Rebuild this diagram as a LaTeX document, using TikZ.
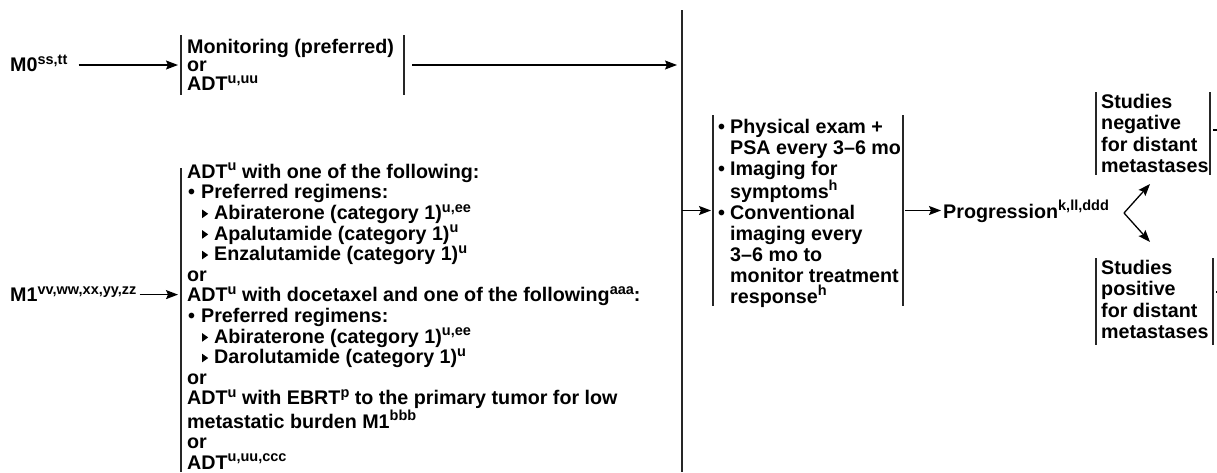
\documentclass[tikz,border=0pt]{standalone}
\usepackage{fontspec}
\setmainfont{Liberation Sans}
\usetikzlibrary{arrows.meta,calc}
\newcommand{\sps}[1]{\raisebox{7.5pt}{\fontsize{14.5}{14.5}\selectfont #1}}
\newcommand{\bul}{\makebox[14pt][l]{\hspace{1pt}•}}
\newcommand{\fbul}{\makebox[12pt][l]{•}}
\newcommand{\tri}{\hspace*{15pt}\makebox[12pt][l]{\tikz[baseline=0pt]\fill (0pt,1.5pt) -- (0pt,10pt) -- (6pt,5.75pt) -- cycle;}}
\newcommand{\ind}{\hspace*{12pt}}
\newcommand{\fst}{\rule{0pt}{15pt}}
\tikzset{
  txt/.style={font=\bfseries\fontsize{19.7}{20.6}\selectfont, inner sep=0pt, align=left, anchor=north west},
  lab/.style={font=\bfseries\fontsize{19.7}{20.9}\selectfont, inner sep=0pt, anchor=base west},
  frame/.style={inner sep=0pt, outer sep=0pt},
  bar/.style={line width=1.6pt, draw=black!85},
  arr/.style={line width=1.3pt, -{Stealth[length=12pt,width=9pt,inset=2pt]}},
  stub/.style={line width=1.3pt},
}
\begin{document}
\begin{tikzpicture}[x=1pt,y=-1pt]
\useasboundingbox (0,0) rectangle (1217,472);
% ---------- M0 ----------
\node[lab] (m0lab) at (10,71.7) {M0\sps{ss,tt}};
\node[frame, minimum width=223pt, minimum height=60pt] (m0box) at (292.5,65) {};
\node[txt, font=\bfseries\fontsize{19.7}{18.7}\selectfont] (m0txt) at (187,38) {\fst Monitoring (preferred)\\or\\ADT\sps{u,uu}};
\draw[bar] (m0box.north west) -- (m0box.south west);
\draw[bar] (m0box.north east) -- (m0box.south east);
% ---------- main vertical line ----------
\coordinate (vt) at (682,10);
\coordinate (vb) at (682,472);
\draw[bar] (vt) -- (vb);
\draw[arr] ($(m0lab.east |- m0box.west)+(11,0)$) -- ($(m0box.west)+(-3,0)$);
\draw[arr] ($(m0box.east)+(8,0)$) -- ($(vt |- m0box.east)+(-5,0)$);
% ---------- M1 ----------
\node[frame, minimum width=501pt, minimum height=304pt] (m1box) at (431.5,320) {};
\draw[bar] (m1box.north west) -- (m1box.south west);
\node[txt] (m1txt) at (187,163) {\fst ADT\sps{u} with one of the following:\\
\bul Preferred regimens:\\
\tri Abiraterone (category 1)\sps{u,ee}\\
\tri Apalutamide (category 1)\sps{u}\\
\tri Enzalutamide (category 1)\sps{u}\\
or\\
ADT\sps{u} with docetaxel and one of the following\sps{aaa}:\\
\bul Preferred regimens:\\
\tri Abiraterone (category 1)\sps{u,ee}\\
\tri Darolutamide (category 1)\sps{u}\\
or\\
ADT\sps{u} with EBRT\sps{p} to the primary tumor for low\\
metastatic burden M1\sps{bbb}\\
or\\
ADT\sps{u,uu,ccc}};
\node[lab] (m1lab) at (10,301.6) {M1\sps{vv,ww,xx,yy,zz}};
\coordinate (m1in) at (m1box.west |- 0,294.6);
\draw[arr] ($(m1lab.east |- m1in)+(3,0)$) -- ($(m1in)+(-3,0)$);
% ---------- follow-up ----------
\node[frame, minimum width=190pt, minimum height=191pt] (fubox) at (808,210.5) {};
\draw[bar] (fubox.north west) -- (fubox.south west);
\draw[bar] (fubox.north east) -- (fubox.south east);
\node[txt, font=\bfseries\fontsize{19.7}{21}\selectfont] (futxt) at (718,118) {\fst\fbul Physical exam +\\
\ind PSA every 3–6 mo\\
\fbul Imaging for\\
\ind symptoms\sps{h}\\
\fbul Conventional\\
\ind imaging every\\
\ind 3–6 mo to\\
\ind monitor treatment\\
\ind response\sps{h}};
\draw[arr] (vt |- fubox.west) -- ($(fubox.west)+(-2,0)$);
% ---------- progression ----------
\node[lab] (prog) at (943,218) {Progression\sps{k,ll,ddd}};
\draw[arr] ($(fubox.east)+(2,0)$) -- ($(prog.west |- fubox.east)+(-2,0)$);
\coordinate (fork) at (1124,213);
\coordinate (negtip) at (1150,184);
\coordinate (postip) at (1150,242);
\draw[arr] (fork) -- (negtip);
\draw[arr] (fork) -- (postip);
% ---------- studies boxes ----------
\node[frame, minimum width=114pt, minimum height=83pt] (negbox) at (1153,133.5) {};
\draw[bar] (negbox.north west) -- (negbox.south west);
\draw[bar] (negbox.north east) -- (negbox.south east);
\node[txt, font=\bfseries\fontsize{19.7}{21.5}\selectfont] (negtxt) at (1101,93) {\fst Studies\\negative\\for distant\\metastases};
\node[frame, minimum width=117pt, minimum height=87pt] (posbox) at (1154.5,301.5) {};
\draw[bar] (posbox.north west) -- (posbox.south west);
\draw[bar] (posbox.north east) -- (posbox.south east);
\node[txt, font=\bfseries\fontsize{19.7}{21.5}\selectfont] (postxt) at (1101,259) {\fst Studies\\positive\\for distant\\metastases};
\coordinate (negout) at (1217,130);
\coordinate (posout) at (1217,292);
\draw[stub] ($(negbox.east |- negout)+(3,0)$) -- (negout);
\draw[stub] ($(posbox.east |- posout)+(3,0)$) -- (posout);
\end{tikzpicture}
\end{document}
